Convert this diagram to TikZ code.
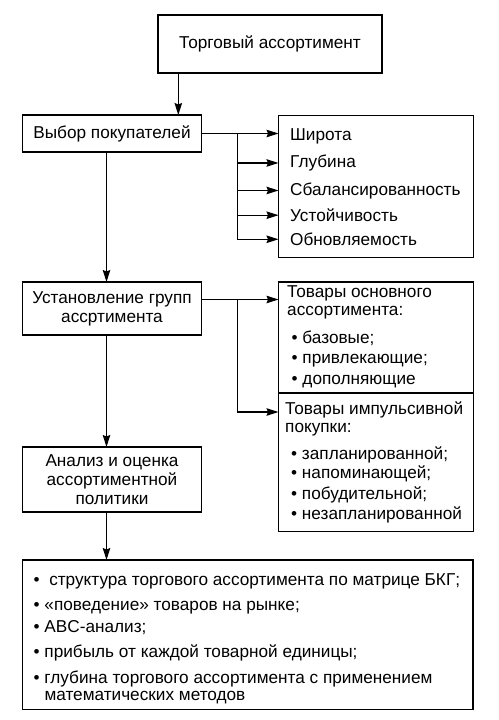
\documentclass[tikz,border=0pt]{standalone}
\usepackage{fontspec}
\setmainfont{Liberation Sans}
\usetikzlibrary{arrows.meta, positioning}

\begin{document}
\begin{tikzpicture}[
    x=1pt, y=-1pt,
    font=\fontsize{17.2}{18.3}\selectfont,
    blk/.style={draw, line width=1.5pt, align=center, inner sep=0pt, outer sep=0pt, minimum width=179pt, font=\fontsize{17.2}{19}\selectfont},
    lst/.style={draw, line width=1.5pt, inner sep=0pt, outer sep=0pt, minimum width=195pt},
    itm/.style={anchor=base west, inner sep=0pt},
    hdr/.style={anchor=north west, inner sep=0pt, align=left, font=\fontsize{17.2}{17.5}\selectfont},
    fl/.style={-{Stealth[length=12pt, width=7.5pt, inset=1.5pt]}, line width=1.2pt}
]
\fill[white] (0,0) rectangle (498,720);
\useasboundingbox (0,0) rectangle (498,720);

% ===== ЛЕВАЯ КОЛОНКА =====
\node[draw, line width=1.5pt, inner sep=0pt, outer sep=0pt, minimum width=224pt, minimum height=58pt, anchor=north west] (TORG) at (158,15) {Торговый ассортимент};
\node[blk, minimum height=37pt, anchor=north west] (BUY) at (22.5,115) {Выбор покупателей};
\node[blk, minimum height=53pt, below=130pt of BUY] (GRP) {Установление групп\\ассртимента};
\node[blk, minimum height=65pt, below=112pt of GRP] (ANL) {Анализ и оценка\\ассортиментной\\политики};

% ===== СВОЙСТВА АССОРТИМЕНТА =====
\node[lst, minimum height=142pt, anchor=north west] (PROP) at (278.5,115.5) {};
\node[itm] (SHIR) at (290,140) {Широта};
\node[itm] (GLUB) at (290,167.5) {Глубина};
\node[itm] (SBAL) at (290,195) {Сбалансированность};
\node[itm] (USTO) at (290,221.5) {Устойчивость};
\node[itm] (OBNO) at (290,245.5) {Обновляемость};

\coordinate (BR1) at ([xshift=35.7pt]BUY.east);
\draw[fl] (BUY.east) -- (BUY.east -| PROP.west);
\draw[fl] (BR1) |- (PROP.west |- GLUB.west);
\draw[fl] (BR1) |- (PROP.west |- SBAL.west);
\draw[fl] (BR1) |- (PROP.west |- USTO.west);
\draw[fl] (BR1) |- (PROP.west |- OBNO.west);

% ===== ГРУППЫ ТОВАРОВ =====
\node[lst, minimum height=111pt, anchor=north west] (OSN) at (278.5,282) {};
\node[lst, minimum height=138.5pt, below=0pt of OSN] (IMP) {};

\node[hdr] (OSNH) at (287,285.8) {Товары основного\\ассортимента:};
\node[itm] (BAZ) at (291.5,343.3) {• базовые;};
\node[itm] (PRIV) at (291.5,363.5) {• привлекающие;};
\node[itm] (DOP) at (291.5,384) {• дополняющие};

\node[hdr] (IMPH) at (285,401.8) {Товары импульсивной\\покупки:};
\node[itm] (ZAPL) at (291,459) {• запланированной;};
\node[itm] (NAPO) at (291,478.5) {• напоминающей;};
\node[itm] (POBU) at (291,499) {• побудительной;};
\node[itm] (NEZA) at (291,519) {• незапланированной};

\coordinate (G1) at ([yshift=9pt]GRP.east);
\coordinate (BR2) at ([xshift=35.7pt]G1);
\draw[fl] (G1) -- (G1 -| OSN.west);
\draw[fl] (BR2) |- ([yshift=-19pt]IMP.north west);

% ===== ИТОГОВЫЙ АНАЛИЗ =====
\node[draw, line width=1.5pt, inner sep=0pt, outer sep=0pt, minimum width=450.5pt, minimum height=149.5pt, anchor=north west] (RES) at (22.5,560) {};
\node[itm] (R1) at (33.5,585) {•~ структура торгового ассортимента по матрице БКГ;};
\node[itm] (R2) at (33.5,610) {• «поведение» товаров на рынке;};
\node[itm] (R3) at (33.5,632) {• ABC-анализ;};
\node[itm] (R4) at (33.5,657) {• прибыль от каждой товарной единицы;};
\node[hdr, font=\fontsize{17.2}{17}\selectfont] (R5) at (33.5,670.3)
  {• глубина торгового ассортимента с применением\\\hphantom{• }математических методов};

% ===== ВЕРТИКАЛЬНЫЕ СВЯЗИ =====
\coordinate (T1) at ([xshift=20.3pt]TORG.south west);
\coordinate (B1) at ([xshift=-5.5pt]BUY.south);
\coordinate (G2) at ([xshift=-5.5pt]GRP.south);
\coordinate (A1) at ([xshift=-5.5pt]ANL.south);
\draw[fl] (T1) -- (T1 |- BUY.north);
\draw[fl] (B1) -- (B1 |- GRP.north);
\draw[fl] (G2) -- (G2 |- ANL.north);
\draw[fl] (A1) -- (A1 |- RES.north);

\end{tikzpicture}
\end{document}
